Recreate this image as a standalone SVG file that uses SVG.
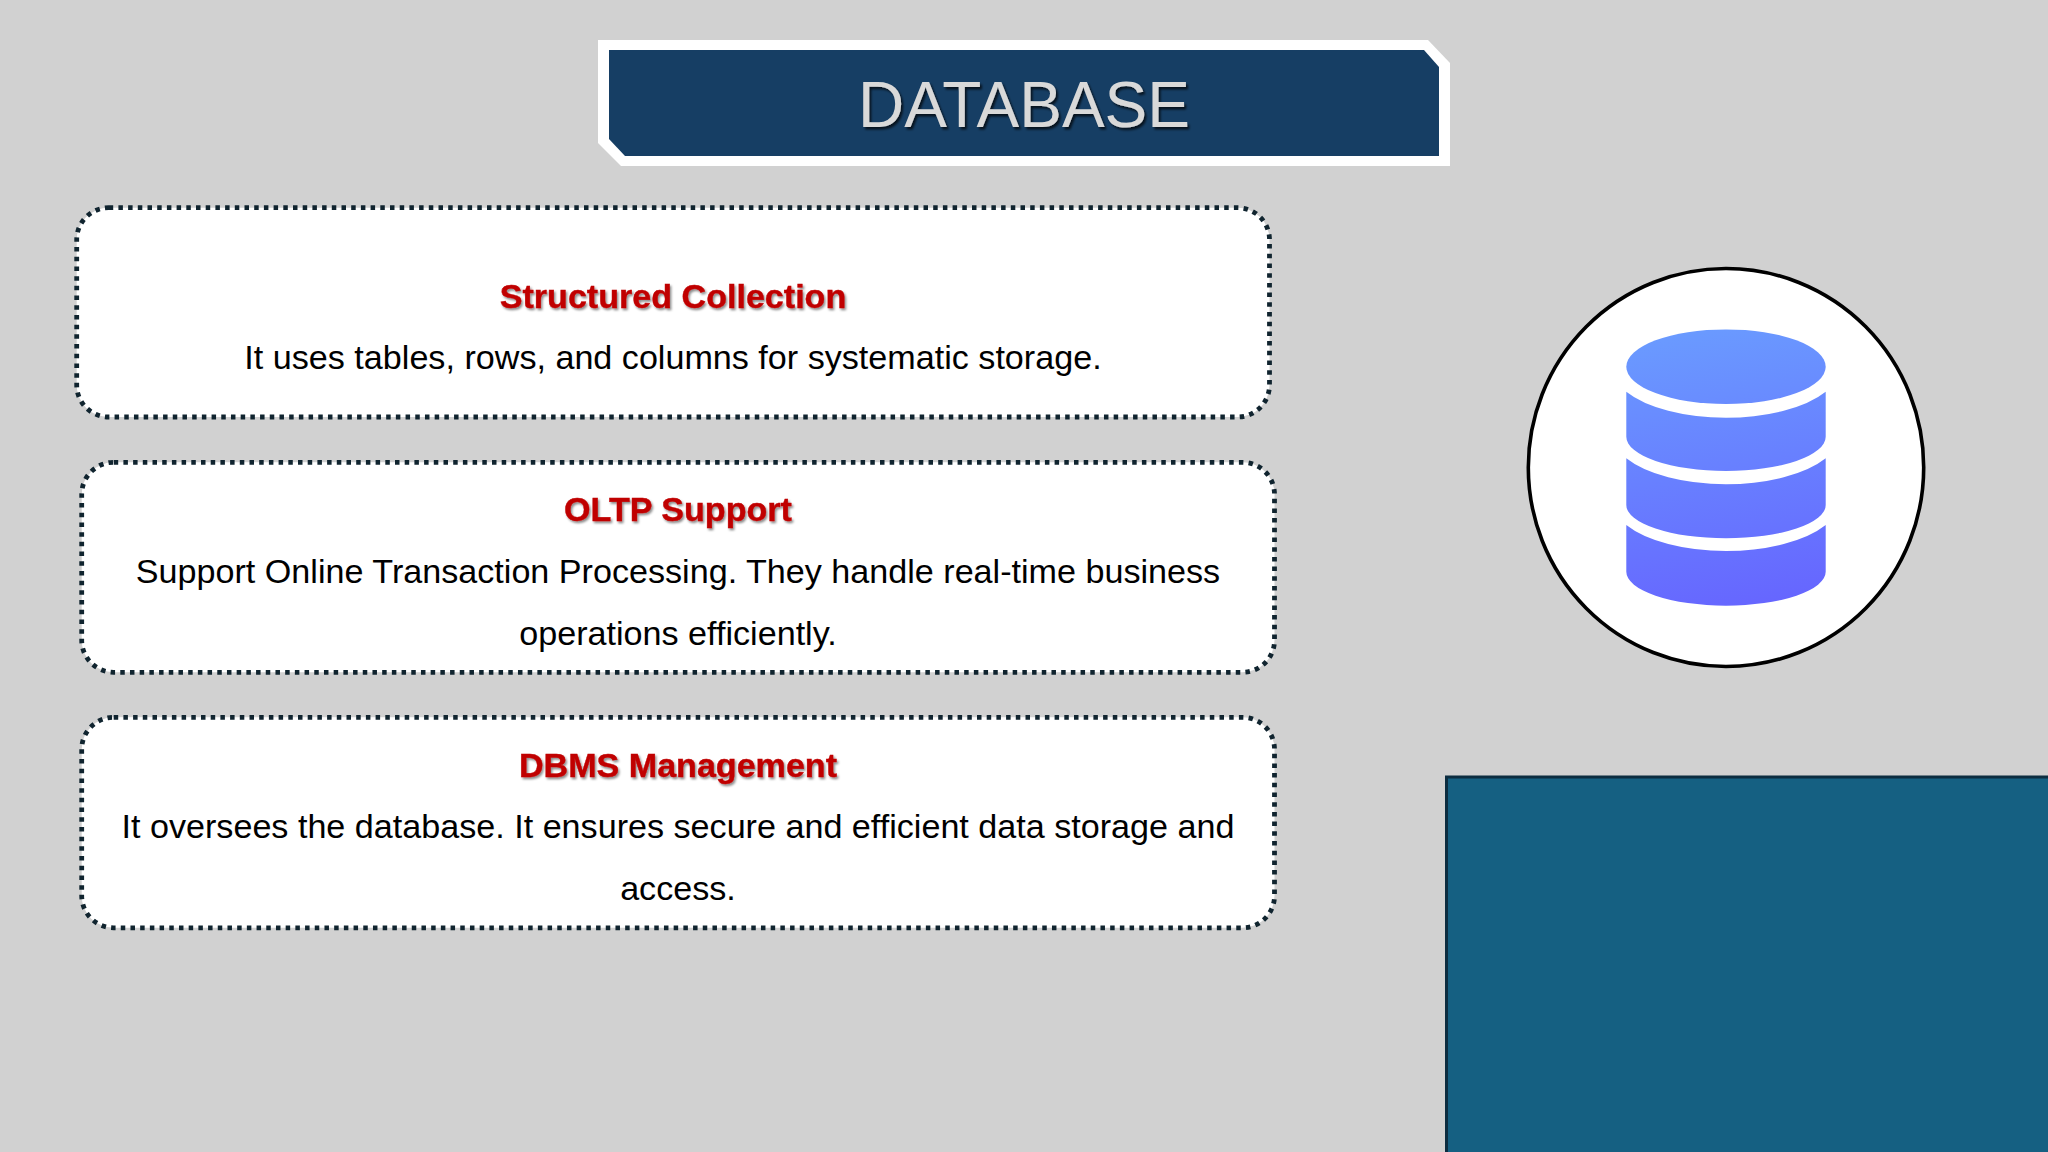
<svg xmlns="http://www.w3.org/2000/svg" width="2048" height="1152" viewBox="0 0 2048 1152">
<style>
text{font-family:"Liberation Sans",Arial,sans-serif;text-anchor:middle}
.card{fill:#fff;stroke:#10242f;stroke-width:4.8;stroke-dasharray:4.5 5.2}
.h{font-size:34.1px;font-weight:700;fill:#c00000;stroke:#c00000;stroke-width:.4;filter:url(#hs)}
.b{font-size:34.13px;fill:#000}
.layer{fill:url(#cyl)}
</style>
<defs>
<filter id="hs" x="-5%" y="-20%" width="110%" height="150%"><feDropShadow dx="1.5" dy="2" stdDeviation="1.2" flood-color="#000" flood-opacity=".45"/></filter>
<filter id="ts" x="-5%" y="-20%" width="110%" height="150%"><feDropShadow dx="2" dy="2.5" stdDeviation="1.2" flood-color="#000" flood-opacity=".7"/></filter>
<linearGradient id="cyl" gradientUnits="userSpaceOnUse" x1="1700" y1="329" x2="1752" y2="606"><stop offset="0" stop-color="#6a9aff"/><stop offset="1" stop-color="#6666ff"/></linearGradient>
</defs>
<rect width="2048" height="1152" fill="#d1d1d1"/>
<g id="title">
<polygon points="598,40 1428,40 1450,63 1450,166 621,166 598,143" fill="#fff"/>
<polygon points="609,50 1424,50 1439,67 1439,156 625,156 609,139" fill="#163e64"/>
<text x="1024" y="127" font-size="64" fill="#d9d9d9" filter="url(#ts)">DATABASE</text>
</g>
<g id="card-structured">
<rect class="card" x="76.7" y="207.7" width="1192.8" height="209.3" rx="32"/>
<text class="h" x="673" y="308">Structured Collection</text>
<text class="b" x="673" y="369">It uses tables, rows, and columns for systematic storage.</text>
</g>
<g id="card-oltp">
<rect class="card" x="81.7" y="462.3" width="1192.8" height="210" rx="32"/>
<text class="h" x="678" y="521">OLTP Support</text>
<text class="b" x="678" y="583">Support Online Transaction Processing. They handle real-time business</text>
<text class="b" x="678" y="645">operations efficiently.</text>
</g>
<g id="card-dbms">
<rect class="card" x="81.7" y="717.3" width="1192.8" height="210.5" rx="32"/>
<text class="h" x="678" y="777">DBMS Management</text>
<text class="b" x="678" y="838">It oversees the database. It ensures secure and efficient data storage and</text>
<text class="b" x="678" y="900">access.</text>
</g>
<g id="database-icon">
<ellipse cx="1726" cy="467.5" rx="197.7" ry="199" fill="#fff" stroke="#000" stroke-width="3.6"/>
<ellipse class="layer" cx="1726" cy="366.7" rx="99.7" ry="37.3"/>
<path class="layer" d="M1626.3 391.7A114.4 51 0 0 0 1825.7 391.7V436.7A99.7 34.3 0 0 1 1626.3 436.7Z"/>
<path class="layer" d="M1626.3 458.3A114.4 51 0 0 0 1825.7 458.3V505A99.7 33.3 0 0 1 1626.3 505Z"/>
<path class="layer" d="M1626.3 525A114.4 51 0 0 0 1825.7 525V571.7A99.7 34 0 0 1 1626.3 571.7Z"/>
</g>
<g id="panel">
<rect x="1446.5" y="777" width="604" height="380" fill="#156082" stroke="#0c2d40" stroke-width="3"/>
</g>
</svg>
